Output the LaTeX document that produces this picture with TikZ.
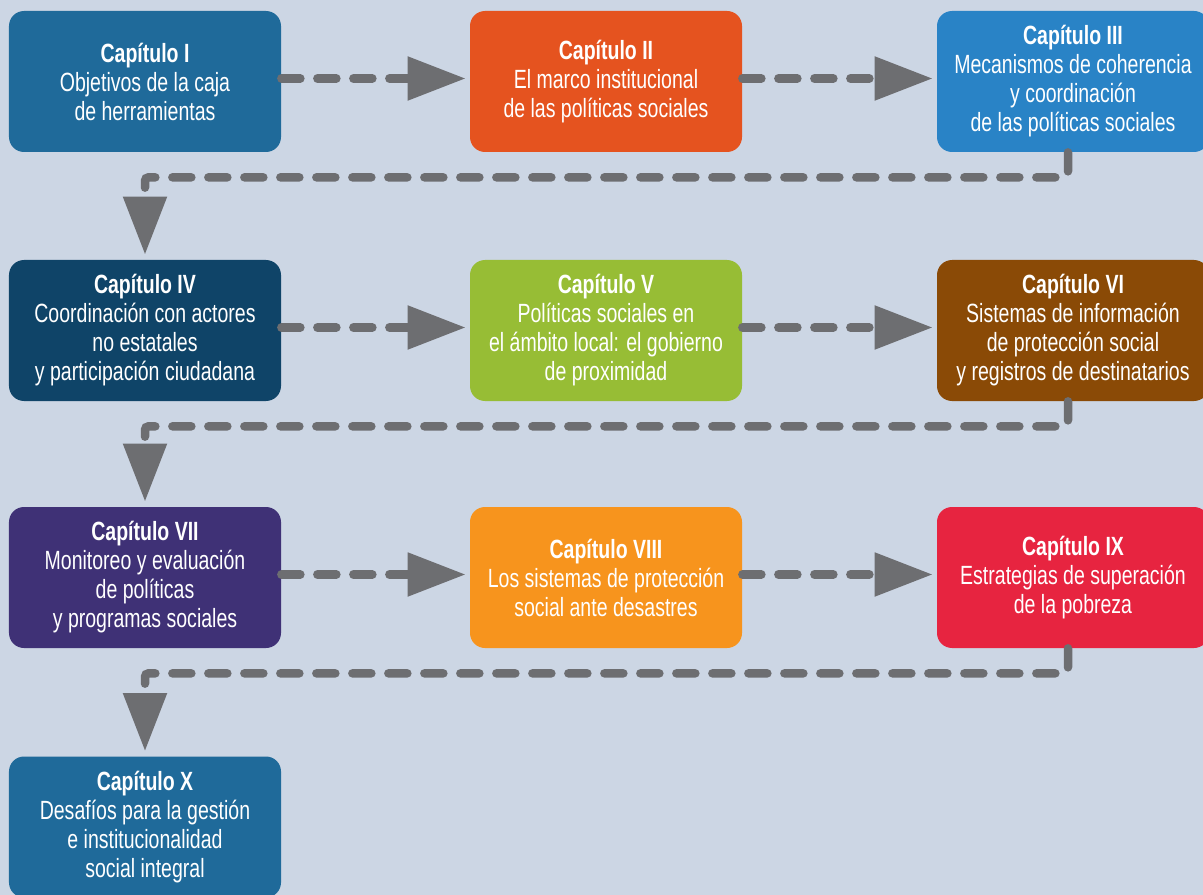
\documentclass[tikz,border=0pt]{standalone}
\usepackage{fontspec}
\setmainfont{Liberation Sans}[FakeStretch=0.74]
\usetikzlibrary{arrows.meta}
\definecolor{fondo}{HTML}{CCD6E4}
\definecolor{flecha}{HTML}{6D6E71}
\definecolor{azul}{HTML}{1F6A9A}
\definecolor{naranja}{HTML}{E5531F}
\definecolor{celeste}{HTML}{2983C6}
\definecolor{marino}{HTML}{0F4468}
\definecolor{verde}{HTML}{97BD35}
\definecolor{cafe}{HTML}{8A4A06}
\definecolor{morado}{HTML}{3F3176}
\definecolor{ambar}{HTML}{F7941D}
\definecolor{rojo}{HTML}{E72440}
\begin{document}
\begin{tikzpicture}[
  caja/.style={rounded corners=0.3cm, minimum width=5.44cm, minimum height=2.82cm,
    inner sep=0pt, align=center, text=white, font=\fontsize{15}{16.5}\selectfont},
  flujo/.style={draw=flecha, line width=0.17cm, line cap=round, rounded corners=2pt,
    dash pattern=on 0.38cm off 0.34cm, -{Triangle[length=1.16cm, width=0.84cm]}, flecha}]
\useasboundingbox (0,0) rectangle (24.06,-17.9);
\fill[fondo] (0,0) rectangle (24.06,-17.9);
\node[caja, fill=azul] (C_0_0) at (2.9,-1.63) {\textbf{Capítulo I}\\Objetivos de la caja\\de herramientas};
\node[caja, fill=naranja] (C_0_1) at (12.12,-1.63) {\textbf{Capítulo II}\\El marco institucional\\de las políticas sociales};
\draw[flujo] ([yshift=0.06cm]C_0_0.east) -- ([yshift=0.06cm,xshift=-0.08cm]C_0_1.west);
\node[caja, fill=celeste] (C_0_2) at (21.46,-1.63) {\textbf{Capítulo III}\\Mecanismos de coherencia\\y coordinación\\de las políticas sociales};
\draw[flujo] ([yshift=0.06cm]C_0_1.east) -- ([yshift=0.06cm,xshift=-0.08cm]C_0_2.west);
\node[caja, fill=marino] (C_1_0) at (2.9,-6.61) {\textbf{Capítulo IV}\\Coordinación con actores\\no estatales\\y participación ciudadana};
\draw[flujo, shorten >=0.1cm] ([xshift=-0.1cm]C_0_2.south) -- ++(0,-0.5) -| (C_1_0.north);
\node[caja, fill=verde] (C_1_1) at (12.12,-6.61) {\textbf{Capítulo V}\\Políticas sociales en\\el ámbito local: el gobierno\\de proximidad};
\draw[flujo] ([yshift=0.06cm]C_1_0.east) -- ([yshift=0.06cm,xshift=-0.08cm]C_1_1.west);
\node[caja, fill=cafe] (C_1_2) at (21.46,-6.61) {\textbf{Capítulo VI}\\Sistemas de información\\de protección social\\y registros de destinatarios};
\draw[flujo] ([yshift=0.06cm]C_1_1.east) -- ([yshift=0.06cm,xshift=-0.08cm]C_1_2.west);
\node[caja, fill=morado] (C_2_0) at (2.9,-11.55) {\textbf{Capítulo VII}\\Monitoreo y evaluación\\de políticas\\y programas sociales};
\draw[flujo, shorten >=0.1cm] ([xshift=-0.1cm]C_1_2.south) -- ++(0,-0.5) -| (C_2_0.north);
\node[caja, fill=ambar] (C_2_1) at (12.12,-11.55) {\textbf{Capítulo VIII}\\Los sistemas de protección\\social ante desastres};
\draw[flujo] ([yshift=0.06cm]C_2_0.east) -- ([yshift=0.06cm,xshift=-0.08cm]C_2_1.west);
\node[caja, fill=rojo] (C_2_2) at (21.46,-11.55) {\textbf{Capítulo IX}\\Estrategias de superación\\de la pobreza};
\draw[flujo] ([yshift=0.06cm]C_2_1.east) -- ([yshift=0.06cm,xshift=-0.08cm]C_2_2.west);
\node[caja, fill=azul] (C_3_0) at (2.9,-16.54) {\textbf{Capítulo X}\\Desafíos para la gestión\\e institucionalidad\\social integral};
\draw[flujo, shorten >=0.1cm] ([xshift=-0.1cm]C_2_2.south) -- ++(0,-0.5) -| (C_3_0.north);
\end{tikzpicture}
\end{document}
